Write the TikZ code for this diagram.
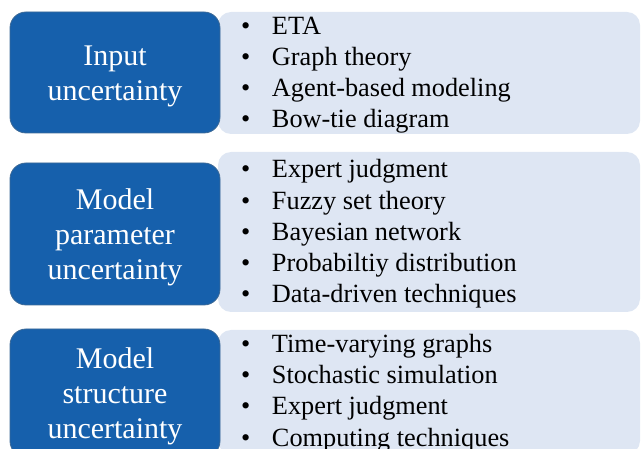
\documentclass[tikz,border=0pt]{standalone}
\usepackage{fontspec}
\setmainfont{Liberation Serif}
\usepackage{tikz}
\usetikzlibrary{positioning}

\definecolor{boxblue}{RGB}{22,96,172}
\definecolor{boxedge}{RGB}{60,105,150}
\definecolor{listbg}{RGB}{222,230,243}

\newcommand{\itm}[1]{\makebox[31pt][l]{\textbullet}#1}

\begin{document}
\begin{tikzpicture}[x=1pt, y=-1pt,
  head/.style={draw=boxedge, line width=0.8pt, fill=boxblue, rounded corners=16pt,
    inner sep=0pt, minimum width=210pt},
  headtext/.style={text=white, align=center, inner sep=0pt, yshift=-3.5pt,
    font={\fontsize{30}{35}\selectfont}},
  panel/.style={fill=listbg, rounded corners=13pt, minimum width=422pt, inner sep=0pt},
  items/.style={align=left, inner sep=0pt, font={\fontsize{26.3}{31.2}\selectfont}}]
  \useasboundingbox (0,0) rectangle (641,449);
  \clip (0,0) rectangle (641,449);

  %% input uncertainty
  \node[panel, minimum height=122pt] (R1) at (429,73) {};
  \node[head, minimum height=121pt] (L1) at (115,72.5) {};
  \node[headtext] (H1) at (L1) {Input\\uncertainty};
  \node[items, right=23pt of R1.west, yshift=-2pt] (T1)
    {\itm{ETA}\\\itm{Graph theory}\\\itm{Agent-based modeling}\\\itm{Bow-tie diagram}};

  %% model parameter uncertainty
  \node[panel, minimum height=160pt] (R2) at (429,232) {};
  \node[head, minimum height=142pt] (L2) at (115,234) {};
  \node[headtext] (H2) at (L2) {Model\\parameter\\uncertainty};
  \node[items, right=23pt of R2.west, yshift=-2pt] (T2)
    {\itm{Expert judgment}\\\itm{Fuzzy set theory}\\\itm{Bayesian network}\\
     \itm{Probabiltiy distribution}\\\itm{Data-driven techniques}};

  %% model structure uncertainty
  \node[panel, minimum height=124pt] (R3) at (429,392) {};
  \node[head, minimum height=128pt] (L3) at (115,393) {};
  \node[headtext] (H3) at (L3) {Model\\structure\\uncertainty};
  \node[items, right=23pt of R3.west, yshift=-1pt] (T3)
    {\itm{Time-varying graphs}\\\itm{Stochastic simulation}\\\itm{Expert judgment}\\
     \itm{Computing techniques}};
\end{tikzpicture}
\end{document}
